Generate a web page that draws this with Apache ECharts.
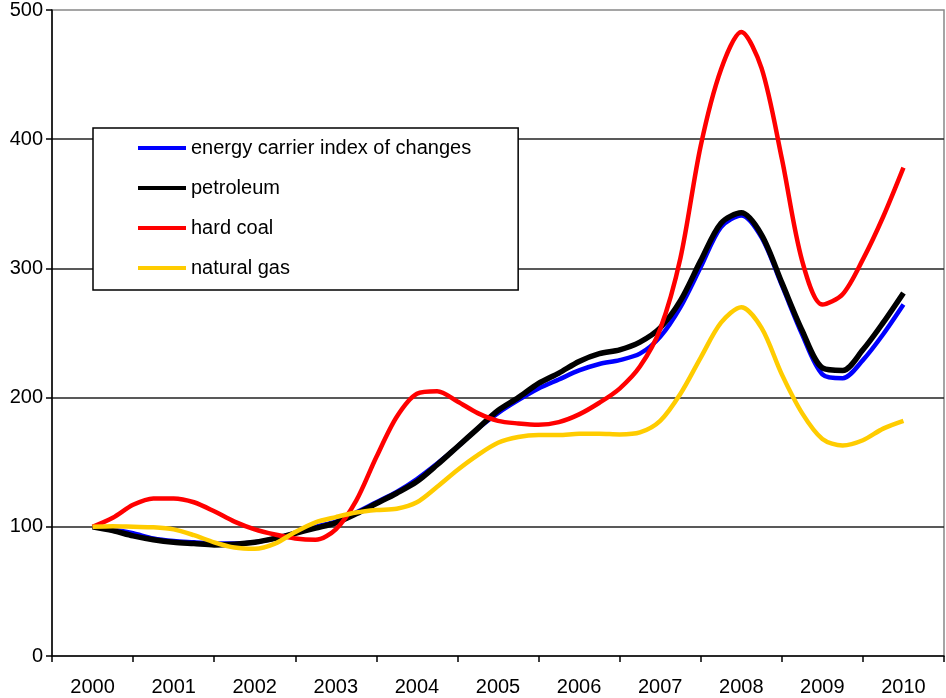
<!DOCTYPE html>
<html>
<head>
<meta charset="utf-8">
<script src="https://cdn.jsdelivr.net/npm/echarts@6/dist/echarts.min.js"></script>
<style>
  html, body { margin: 0; padding: 0; background: #fff; }
  #chart { width: 946px; height: 698px; }
</style>
</head>
<body>
<div id="chart"></div>
<script>
// years on the category axis
var years = ['2000', '2001', '2002', '2003', '2004', '2005', '2006', '2007', '2008', '2009', '2010']
var yTicks = [0, 100, 200, 300, 400, 500]

// quarterly index values, 2000 = 100 (41 points, 2000 .. 2010)
var energyIndex = [100, 98, 95, 91, 89, 88, 87, 87, 88, 91, 95, 100, 104, 111, 119, 127, 137, 149, 162, 176,
  188, 198, 207, 214, 221, 226, 229, 234, 247, 270, 301, 332, 341, 324, 287, 249, 218, 215, 229, 249, 272]
var petroleum = [100, 97, 93, 90, 88, 87, 86, 86.5, 88, 91, 95, 99, 103, 110, 118, 126, 135, 148, 162, 176,
  190, 200, 211, 219, 228, 234, 237, 243, 254, 275, 306, 335, 343, 326, 289, 252, 223, 221, 237, 258, 281]
var hardCoal = [100, 107, 117, 122, 122, 119, 112, 104, 98, 94, 91, 90, 98, 120, 154, 185, 203, 205, 197, 188,
  182, 180, 179, 181, 187, 196, 207, 224, 253, 308, 395, 454, 483, 455, 385, 306, 272, 280, 307, 340, 378]
var naturalGas = [100, 100.4, 100, 99.6, 98, 93.5, 88, 84, 83, 87, 96, 103.5, 107.5, 111, 113, 114, 119, 131, 144, 155.5,
  165, 169.5, 171, 171, 172, 172, 171.5, 173, 182, 203, 231, 258, 270, 254, 218, 188, 168, 163, 167, 176, 182]

var seriesNames = ['energy carrier index of changes', 'petroleum', 'hard coal', 'natural gas']
var seriesColors = ['#0000ff', '#000000', '#ff0000', '#ffcc00']
var seriesValues = [energyIndex, petroleum, hardCoal, naturalGas]

// x of a quarterly point, in years after 2000
function toPairs (vals) {
  return vals.map(function (v, i) { return [i / 4, v] })
}

var chart = echarts.init(document.getElementById('chart'))
var font = 'Liberation Sans, Arial, sans-serif'

var option = {
  animation: false,
  backgroundColor: '#fff',
  grid: {
    left: 52,
    right: 2,
    top: 10,
    bottom: 42,
    show: true,
    borderColor: '#888',
    borderWidth: 1.5
  },
  legend: {
    orient: 'vertical',
    left: 93,
    top: 128,
    data: seriesNames,
    icon: 'rect',
    itemWidth: 48,
    itemHeight: 4,
    itemGap: 20,
    padding: [10, 47, 12, 45],
    backgroundColor: '#fff',
    borderColor: '#000',
    borderWidth: 1.5,
    borderRadius: 0,
    textStyle: { fontFamily: font, fontSize: 20, color: '#000', lineHeight: 20 }
  },
  xAxis: [{
    type: 'category',
    data: years,
    boundaryGap: true,
    axisLine: { lineStyle: { color: '#000', width: 1.5 } },
    axisTick: { show: true, length: 6, lineStyle: { color: '#000', width: 1.5 } },
    axisLabel: { fontFamily: font, fontSize: 20, color: '#000', margin: 21 },
    splitLine: { show: false }
  }, {
    type: 'value',
    min: -0.5,
    max: 10.5,
    show: false
  }],
  yAxis: {
    type: 'value',
    min: yTicks[0],
    max: yTicks[yTicks.length - 1],
    interval: 100,
    axisLine: { show: true, onZero: false, lineStyle: { color: '#000', width: 1.5 } },
    axisTick: { show: true, length: 6, lineStyle: { color: '#000', width: 1.5 } },
    axisLabel: { fontFamily: font, fontSize: 20, color: '#000', margin: 9 },
    splitLine: { show: true, showMinLine: false, showMaxLine: false, lineStyle: { color: '#222', width: 1.5 } }
  },
  series: seriesNames.map(function (name, k) {
    return {
      name: name,
      type: 'line',
      xAxisIndex: 1,
      data: toPairs(seriesValues[k]),
      smooth: 0.3,
      showSymbol: false,
      symbol: 'none',
      color: seriesColors[k],
      lineStyle: { color: seriesColors[k], width: k === 1 ? 5.5 : 4.5 }
    }
  })
}

chart.setOption(option)
</script>
</body>
</html>
